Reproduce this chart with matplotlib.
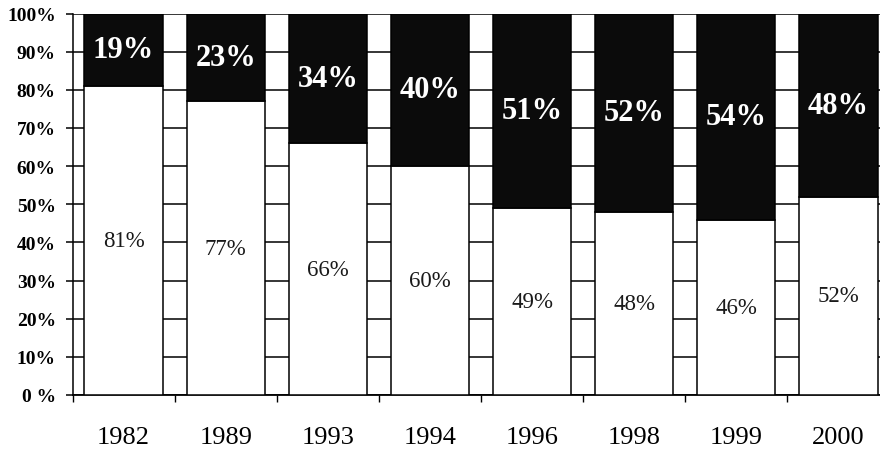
import matplotlib.pyplot as plt
import numpy as np

years = ['1982', '1989', '1993', '1994', '1996', '1998', '1999', '2000']
lower = [81, 77, 66, 60, 49, 48, 46, 52]
upper = [19, 23, 34, 40, 51, 52, 54, 48]
ytick_labels = ['0 %', '10%', '20%', '30%', '40%', '50%', '60%', '70%', '80%', '90%', '100%']

plt.rcParams['font.family'] = ['Liberation Serif', 'DejaVu Serif']

fig = plt.figure(figsize=(8.8, 4.52), dpi=100)
ax = fig.add_axes([72.5/880, 56/452, 817/880, 381.5/452])

x = np.arange(len(years))
w = 0.765
ax.bar(x, lower, w, color='white', edgecolor='black', linewidth=1.1, zorder=3)
ax.bar(x, upper, w, bottom=lower, color='#0b0b0b', edgecolor='black', linewidth=1.1, zorder=3)

for i in range(len(years)):
    ax.text(x[i], lower[i] / 2, f'{lower[i]}%', ha='center', va='center',
            fontsize=16.5, color='#1a1a1a', zorder=4)
    ax.text(x[i], lower[i] + upper[i] / 2, f'{upper[i]}%', ha='center', va='center',
            fontsize=22, fontweight='bold', color='white', zorder=4)

ax.set_xlim(-0.5, len(years) - 0.5)
ax.set_ylim(0, 100)
ax.set_yticks(range(0, 101, 10))
ax.set_yticklabels(ytick_labels, fontsize=14, fontweight='bold')
ax.yaxis.grid(True, color='black', linewidth=1.1)
ax.set_axisbelow(True)

ax.set_xticks(x)
ax.set_xticklabels(years, fontsize=19)
ax.set_xticks(np.arange(-0.5, len(years)), minor=True)
ax.tick_params(axis='x', which='major', length=0, pad=22)
ax.tick_params(axis='x', which='minor', length=5, width=1, direction='out')
ax.tick_params(axis='y', length=5, width=1.1, pad=7)

ax.spines['top'].set_visible(False)
ax.spines['right'].set_visible(False)
ax.spines['left'].set_linewidth(1.1)
ax.spines['bottom'].set_linewidth(1.3)

fig.savefig('out.png', dpi=100)
